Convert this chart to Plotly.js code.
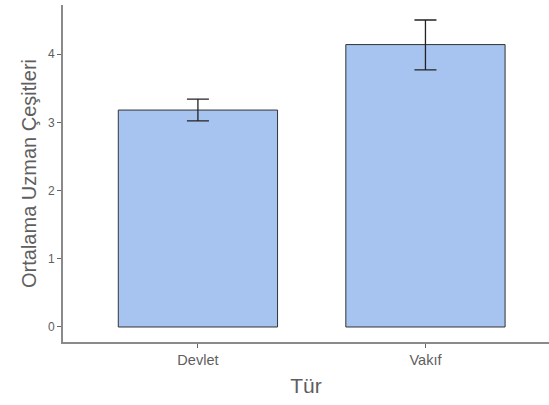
<!DOCTYPE html>
<html><head><meta charset="utf-8">
<script src="https://cdn.plot.ly/plotly-3.0.1.min.js"></script>
<style>html,body{margin:0;padding:0;background:#fff}#c{width:549px;height:405px}</style>
</head><body><div id="c"></div>
<script>
const categories = ["Devlet", "Vakıf"];
const means = [3.18, 4.14];
const errUpper = [0.16, 0.36];
const errLower = [0.16, 0.37];
const yTicks = [0, 1, 2, 3, 4];

const trace = {
  type: "bar",
  x: [0, 1],
  y: means,
  width: 0.7,
  marker: {color: "#a6c4ef", line: {color: "#333333", width: 1}},
  error_y: {type: "data", symmetric: false, array: errUpper, arrayminus: errLower,
            color: "#222222", thickness: 1.3, width: 11},
  hoverinfo: "none"
};

const fam = "'Liberation Sans', Arial, 'DejaVu Sans', sans-serif";
const layout = {
  width: 549, height: 405,
  margin: {l: 63, r: 0, t: 5, b: 63},
  paper_bgcolor: "#fff", plot_bgcolor: "#fff",
  font: {family: fam, color: "#5e5e5e"},
  showlegend: false,
  xaxis: {
    range: [-0.593, 1.543], tickmode: "array", tickvals: [0, 1], ticktext: categories,
    showgrid: false, zeroline: false, showline: true, linecolor: "#8a8a8a", linewidth: 1.8,
    ticks: "outside", ticklen: 4, tickcolor: "#666", tickfont: {size: 14.5, color: "#5e5e5e"},
    title: {text: "Tür", font: {size: 21, color: "#5e5e5e"}, standoff: 11}
  },
  yaxis: {
    range: [-0.22, 4.72], tickmode: "array", tickvals: yTicks,
    showgrid: false, zeroline: false, showline: true, linecolor: "#8a8a8a", linewidth: 1.8,
    ticks: "outside", ticklen: 4, tickcolor: "#666", tickfont: {size: 12, color: "#5e5e5e"},
    title: {text: "Ortalama Uzman Çeşitleri", font: {size: 20, color: "#5e5e5e"}, standoff: 6}
  }
};

Plotly.newPlot("c", [trace], layout, {staticPlot: true});
</script></body></html>
